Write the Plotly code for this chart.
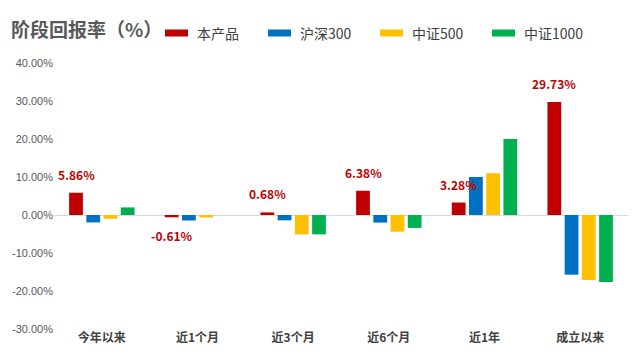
import plotly.graph_objects as go

categories = ["今年以来", "近1个月", "近3个月", "近6个月", "近1年", "成立以来"]
product = [5.86, -0.61, 0.68, 6.38, 3.28, 29.73]
hs300 = [-1.95, -1.45, -1.4, -2.0, 10.0, -15.7]
zz500 = [-1.0, -0.65, -5.1, -4.4, 11.0, -17.1]
zz1000 = [2.0, 0.0, -5.1, -3.4, 20.0, -17.6]
series_names = ["本产品", "沪深300", "中证500", "中证1000"]
colors = ["#C00000", "#0070C0", "#FFC000", "#00B050"]
tick_vals = [40, 30, 20, 10, 0, -10, -20, -30]
tick_text = ["40.00%", "30.00%", "20.00%", "10.00%", "0.00%", "-10.00%", "-20.00%", "-30.00%"]

FONT = "Noto Sans CJK SC"
OFF = 8  # page body margin offsets the figure by 8px
W, H = 640 - OFF, 361 - OFF
ML, MT = 54 - OFF, 63 - OFF
MR = W - (628 - OFF)
MB = H - (329 - OFF)
BARGAP, BARGROUPGAP = 0.28, 0.2
plot_w = W - ML - MR
plot_h = H - MT - MB


def px_x(sx):
    return (sx - OFF - ML) / plot_w


def px_y(sy):
    return (H - MB - (sy - OFF)) / plot_h


fig = go.Figure()
for name, vals, col in zip(series_names, [product, hs300, zz500, zz1000], colors):
    fig.add_trace(go.Bar(x=categories, y=vals, name=name, marker_color=col,
                         marker_line_width=0, showlegend=False))

# data labels for the product series, placed above/below its bar within the group
slot = plot_w / len(categories) * (1 - BARGAP) / len(series_names)
red_shift = -1.5 * slot
annotations = []
for c, v in zip(categories, product):
    annotations.append(dict(
        x=c, y=v, xref="x", yref="y", text=f"<b>{v:.2f}%</b>", showarrow=False,
        xshift=red_shift, yshift=8 if v >= 0 else -8,
        yanchor="bottom" if v >= 0 else "top", xanchor="center",
        font=dict(family=FONT, size=12, color="#C00000")))

# title
annotations.append(dict(text="<b>阶段回报率（%）</b>", xref="paper", yref="paper",
                        x=px_x(9), y=px_y(28), xanchor="left", yanchor="middle",
                        showarrow=False, font=dict(family=FONT, size=19, color="#595959")))

# legend (rectangular swatches like the original)
legend_left = [165, 268, 380, 492]
shapes = []
for name, col, lx in zip(series_names, colors, legend_left):
    shapes.append(dict(type="rect", xref="paper", yref="paper",
                       x0=px_x(lx), x1=px_x(lx + 23), y0=px_y(36.5), y1=px_y(29.5),
                       fillcolor=col, line_width=0))
    annotations.append(dict(text=name, xref="paper", yref="paper",
                            x=px_x(lx + 30), y=px_y(33), xanchor="left", yanchor="middle",
                            showarrow=False, font=dict(family=FONT, size=14, color="#404040")))

fig.update_layout(
    width=W, height=H,
    margin=dict(l=ML, r=MR, t=MT, b=MB, autoexpand=False),
    paper_bgcolor="white", plot_bgcolor="white",
    barmode="group", bargap=BARGAP, bargroupgap=BARGROUPGAP,
    font=dict(family=FONT),
    showlegend=False,
    annotations=annotations,
    shapes=shapes,
)
fig.update_xaxes(showline=False, showgrid=False, ticks="",
                 tickfont=dict(family=FONT, size=12, color="#404040", weight="bold"))
fig.update_yaxes(range=[-30, 40], tickvals=tick_vals, ticktext=tick_text,
                 showgrid=False, zeroline=True, zerolinecolor="#D9D9D9", zerolinewidth=1,
                 showline=False, ticks="",
                 tickfont=dict(family="Liberation Sans", size=11, color="#595959"))

fig.write_html("out.html")
